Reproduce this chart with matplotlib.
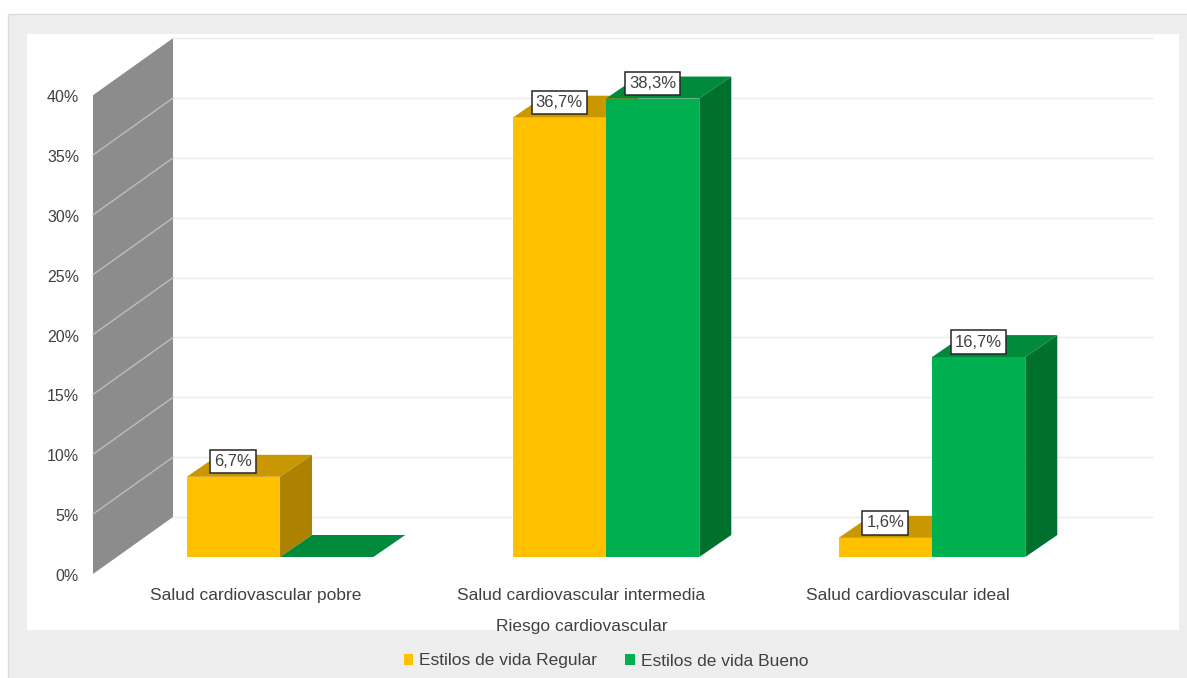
import numpy as np
import matplotlib
matplotlib.use('Agg')
import matplotlib.pyplot as plt
from matplotlib.patches import Polygon, Rectangle
from matplotlib.transforms import Affine2D

categories = ["Salud cardiovascular pobre", "Salud cardiovascular intermedia", "Salud cardiovascular ideal"]
regular = [6.7, 36.7, 1.6]
bueno = [0, 38.3, 16.7]
regular_labels = ["6,7%", "36,7%", "1,6%"]
bueno_labels = [None, "38,3%", "16,7%"]
y_ticks = [0, 5, 10, 15, 20, 25, 30, 35, 40]
series_names = ["Estilos de vida Regular", "Estilos de vida Bueno"]

W, H = 1187, 678
TEXT = '#404040'

plt.rcParams['font.family'] = ['Liberation Sans', 'DejaVu Sans']
plt.rcParams['font.size'] = 11.5

fig = plt.figure(figsize=(W / 100, H / 100), dpi=100, facecolor='white')


def fig_rect(x0, y0, x1, y1, **kw):
    # rectangle given in pixels from the top left corner
    fig.add_artist(Rectangle((x0 / W, 1 - y1 / H), (x1 - x0) / W, (y1 - y0) / H,
                             transform=fig.transFigure, zorder=-2, **kw))


fig_rect(8, 14, W + 2, H + 2, facecolor='#eeeeee', edgecolor='#dcdcdc', lw=1)
fig_rect(27, 34, 1179, 630, facecolor='white', edgecolor='none')

# plot area: y=0 sits on the bar base, one category is 326 px wide
left, right, bottom, top = 93, 1152, 557, 78.2
ax = fig.add_axes([left / W, 1 - bottom / H, (right - left) / W, (bottom - top) / H])
ax.patch.set_alpha(0)
px_x = 1 / 326
px_y = 40 / (bottom - top)
ax.set_xlim((left - 280) * px_x, (right - 280) * px_x)
ax.set_ylim(0, 40)
for s in ax.spines.values():
    s.set_visible(False)

x = np.arange(len(categories))
bar_w = 93.3 * px_x
depth_x = 32 * px_x
depth_y = 22 * px_y


def add_poly(points, color, z):
    ax.add_patch(Polygon(points, closed=True, facecolor=color, edgecolor='none',
                         clip_on=False, zorder=z))


# side wall and back grid
wall_x0 = ax.get_xlim()[0]
wall_x1 = wall_x0 + 80 * px_x
wall_front = -17 * px_y
wall_back = 40 * px_y
add_poly([(wall_x0, wall_front), (wall_x1, wall_back), (wall_x1, 40 + wall_back), (wall_x0, 40 + wall_front)],
         '#8c8c8c', 1)
for t in y_ticks:
    if 0 < t < 40:
        ax.plot([wall_x0, wall_x1], [t + wall_front, t + wall_back], color='#bdbdbd', lw=1, zorder=2, clip_on=False)
    ax.plot([wall_x1, ax.get_xlim()[1]], [t + wall_back] * 2, color='#ebebeb', lw=1, zorder=1, clip_on=False)


def draw_series(positions, values, front, top_col, side_col, z):
    bars = ax.bar(positions, values, bar_w, align='edge', color=front, zorder=z + 2, clip_on=False)
    for p, v in zip(positions, values):
        add_poly([(p, v), (p + bar_w, v), (p + bar_w + depth_x, v + depth_y), (p + depth_x, v + depth_y)], top_col, z)
        add_poly([(p + bar_w, 0), (p + bar_w + depth_x, depth_y), (p + bar_w + depth_x, v + depth_y), (p + bar_w, v)],
                 side_col, z + 1)
    return bars


bars_regular = draw_series(x - bar_w, regular, '#ffc000', '#c99700', '#ad8200', 3)
bars_bueno = draw_series(x, bueno, '#00b050', '#008a3c', '#00702f', 6)


def value_labels(positions, values, labels):
    for p, v, lab in zip(positions, values, labels):
        if lab is None:
            continue
        ax.annotate(lab, (p + bar_w / 2, v), xytext=(0, 15), textcoords='offset pixels', ha='center', va='center',
                    color=TEXT, zorder=10, annotation_clip=False, fontsize=12,
                    bbox=dict(boxstyle='square,pad=0.25', facecolor='white', edgecolor='#262626', lw=1.1))


value_labels(x - bar_w, regular, regular_labels)
value_labels(x, bueno, bueno_labels)

# axes text
ax.set_yticks(y_ticks)
ax.set_yticklabels([f"{t}%" for t in y_ticks], color=TEXT)
ax.tick_params(axis='y', length=0, pad=10)
for lab in ax.get_yticklabels():
    lab.set_transform(lab.get_transform() + Affine2D().translate(0, -18))

ax.set_xticks(x - 24.5 * px_x)
ax.set_xticklabels(categories, color=TEXT, fontsize=12.5)
ax.tick_params(axis='x', length=0, pad=22.5)
ax.set_xlabel("Riesgo cardiovascular", color=TEXT, fontsize=12.5)
ax.xaxis.set_label_coords((582 - left) / (right - left), -(619 - bottom) / (bottom - top), transform=ax.transAxes)

fig.legend([bars_regular, bars_bueno], series_names, ncol=2, loc='center', frameon=False,
           bbox_to_anchor=(606 / W, 1 - 661 / H), handlelength=0.55, handleheight=0.55,
           handletextpad=0.35, columnspacing=1.6, labelcolor=TEXT, fontsize=12.5)

fig.savefig('out.png', dpi=100)
